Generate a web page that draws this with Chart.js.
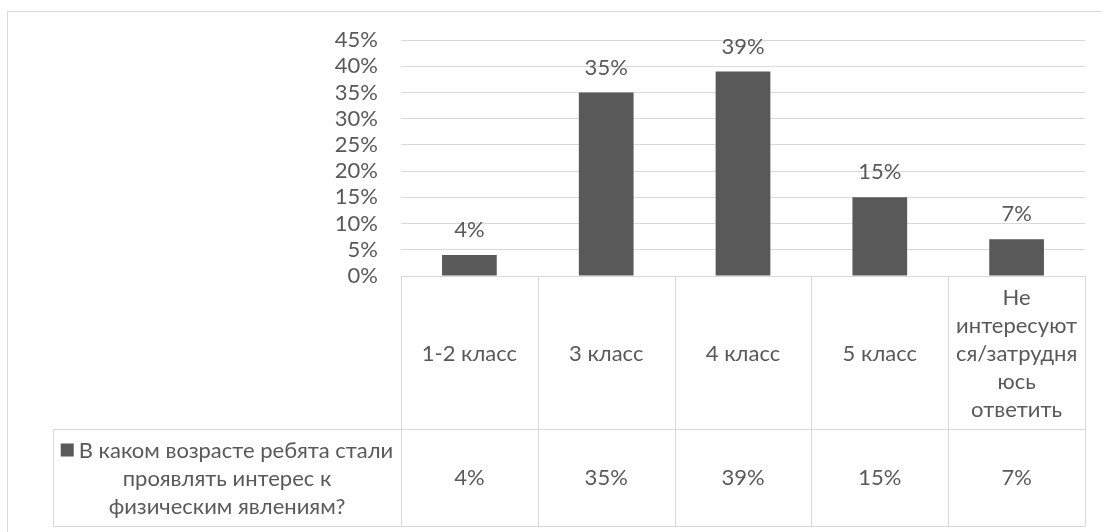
<!DOCTYPE html>
<html>
<head>
<meta charset="utf-8">
<script src="https://cdn.jsdelivr.net/npm/chart.js@4.4.1/dist/chart.umd.min.js"></script>
<style>
    body { margin: 0; background: #fff; }
    #wrap { position: relative; width: 1102px; height: 532px; overflow: hidden; }
    #frame { position: absolute; left: 7px; top: 11px; width: 1200px; height: 600px; border: 1px solid #d9d9d9; box-sizing: border-box; }
    canvas { position: absolute; left: 0; top: 0; }
</style>
</head>
<body>
<div id="wrap">
    <div id="frame"></div>
    <canvas id="grafico" width="1102" height="532"></canvas>
</div>
<script>
const categorias = ['1-2 класс', '3 класс', '4 класс', '5 класс', ['Не', 'интересуют', 'ся/затрудня', 'юсь', 'ответить']];
const valores = [4, 35, 39, 15, 7];
const serieNombre = ['В каком возрасте ребята стали', 'проявлять интерес к', 'физическим явлениям?'];
const ticksY = [0, 5, 10, 15, 20, 25, 30, 35, 40, 45];

const GRIS = '#595959';
const LINEA = '#d9d9d9';
const FUENTE = '22px Lato';
const ALTO_LINEA = 28;

// tabla de datos debajo del eje, estilo Excel
const tablaDatos = {
    id: 'tablaDatos',
    afterDraw(chart) {
        const ctx = chart.ctx;
        const area = chart.chartArea;
        const x = chart.scales.x;
        const top = area.bottom;
        const fila1 = top + 153;
        const fondo = top + 250;
        const leyendaIzq = 53;
        const ancho = area.width / categorias.length;

        ctx.save();
        ctx.strokeStyle = LINEA;
        ctx.lineWidth = 1;
        ctx.beginPath();
        ctx.moveTo(area.left, top + 0.5); ctx.lineTo(area.right, top + 0.5);
        ctx.moveTo(leyendaIzq, fila1 + 0.5); ctx.lineTo(area.right, fila1 + 0.5);
        ctx.moveTo(leyendaIzq, fondo + 0.5); ctx.lineTo(area.right, fondo + 0.5);
        ctx.moveTo(leyendaIzq + 0.5, fila1); ctx.lineTo(leyendaIzq + 0.5, fondo);
        for (let i = 0; i <= categorias.length; i++) {
            const xx = Math.round(area.left + i * ancho) + 0.5;
            ctx.moveTo(xx, top); ctx.lineTo(xx, fondo);
        }
        ctx.stroke();

        ctx.fillStyle = GRIS;
        ctx.font = FUENTE;
        ctx.textAlign = 'center';
        ctx.textBaseline = 'middle';
        categorias.forEach((cat, i) => {
            const cx = x.getPixelForValue(i);
            const lineas = Array.isArray(cat) ? cat : [cat];
            const cy = (top + fila1) / 2 + 1 - (lineas.length - 1) * ALTO_LINEA / 2;
            lineas.forEach((l, j) => ctx.fillText(l, cx, cy + j * ALTO_LINEA));
            ctx.fillText(valores[i] + '%', cx, (fila1 + fondo) / 2);
        });

        // leyenda dentro de la tabla
        const lx = (leyendaIzq + area.left) / 2;
        const ly = (fila1 + fondo) / 2 + 1 - (serieNombre.length - 1) * ALTO_LINEA / 2;
        serieNombre.forEach((l, j) => {
            const w = ctx.measureText(l).width;
            ctx.fillText(l, lx + (j === 0 ? 9 : 0), ly + j * ALTO_LINEA);
            if (j === 0) {
                ctx.fillRect(lx + 9 - w / 2 - 18, ly - 7, 13, 13);
            }
        });

        // etiquetas sobre las barras
        const meta = chart.getDatasetMeta(0);
        meta.data.forEach((bar, i) => {
            ctx.fillText(valores[i] + '%', bar.x, bar.y - 25);
        });
        ctx.restore();
    }
};

new Chart(document.getElementById('grafico'), {
    type: 'bar',
    data: {
        labels: categorias,
        datasets: [{
            label: serieNombre.join(' '),
            data: valores,
            backgroundColor: GRIS,
            categoryPercentage: 1,
            barPercentage: 0.4
        }]
    },
    options: {
        responsive: false,
        animation: false,
        events: [],
        layout: { padding: { left: 0, top: 40, right: 17, bottom: 256 } },
        plugins: { legend: { display: false }, tooltip: { enabled: false } },
        scales: {
            x: { display: false },
            y: {
                min: 0,
                max: 45,
                afterFit: (scale) => { scale.width = 401; },
                afterBuildTicks: (scale) => { scale.ticks = ticksY.map(v => ({ value: v })); },
                border: { display: false },
                grid: { color: LINEA, drawTicks: false },
                ticks: {
                    color: GRIS,
                    font: { family: 'Lato', size: 22 },
                    padding: 23,
                    autoSkip: false,
                    callback: (v) => v + '%'
                }
            }
        }
    },
    plugins: [tablaDatos]
});
</script>
</body>
</html>
